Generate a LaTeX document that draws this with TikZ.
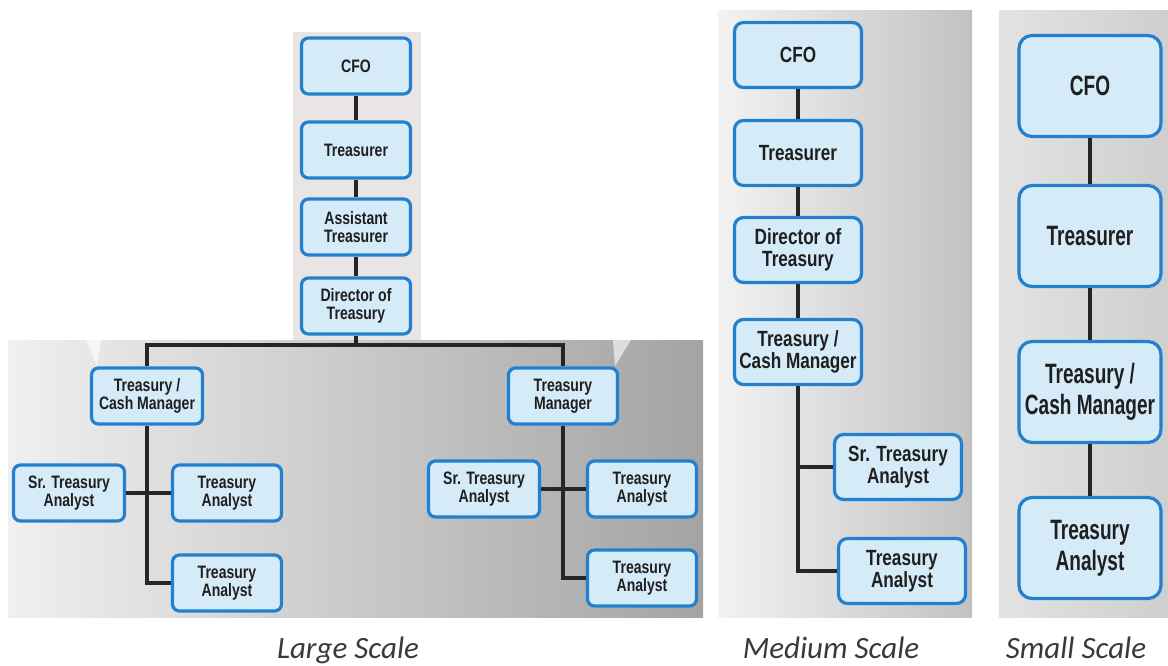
\documentclass[tikz,border=0pt]{standalone}
\usepackage{fontspec}
\newfontfamily\boxfont{Liberation Sans Bold}[FakeStretch=0.78]
\newfontfamily\bigboxfont{Liberation Sans Bold}[FakeStretch=0.68]
\newfontfamily\capfont{Carlito}
\usetikzlibrary{shapes,backgrounds}
\usepackage{color}
\definecolor{boxblue}{RGB}{34,128,206}
\definecolor{boxfill}{RGB}{214,235,248}
\definecolor{striptint}{RGB}{234,229,229}
\definecolor{captext}{RGB}{58,58,58}
\tikzset{
  box/.style={draw=boxblue, fill=boxfill, line width=3.2pt, align=center, text=black!88, inner sep=0pt},
  lbox/.style={box, rounded corners=7pt, minimum width=109pt, minimum height=56pt, font=\boxfont\fontsize{18}{18.5}\selectfont},
  mbox/.style={box, rounded corners=9pt, minimum width=127pt, minimum height=65pt, font=\boxfont\fontsize{22}{22.5}\selectfont},
  sbox/.style={box, rounded corners=13pt, minimum width=142pt, minimum height=101pt, font=\bigboxfont\fontsize{28}{31}\selectfont},
  link/.style={line width=3.2pt, black!85},
  caption/.style={anchor=base, font=\capfont\itshape\fontsize{31}{32}\selectfont, text=captext}
}
\begin{document}
\begin{tikzpicture}[x=1pt,y=-1pt]
\useasboundingbox (0,0) rectangle (1168,665);

% backgrounds
\shade[left color=black!6, right color=black!36] (8,340) rectangle (703,617);
\fill[striptint] (293,32) rectangle (421,340);
\fill[white, opacity=.6] (86,340) -- (101,340) -- (97,366) -- cycle;
\fill[white, opacity=.6] (613,340) -- (631,340) -- (615,366) -- cycle;
\shade[left color=black!5, right color=black!24] (718,10) rectangle (972,617);
\shade[left color=black!11, right color=black!19] (999,10) rectangle (1168,617);

% large scale
\node[lbox] (lcfo) at (356,66) {CFO};
\node[lbox] (ltre) at (356,150) {Treasurer};
\node[lbox] (lasst) at (356,227) {Assistant\\Treasurer};
\node[lbox] (ldir) at (356,306) {Director of\\Treasury};
\node[lbox, minimum width=111pt] (lcash) at (147,396) {Treasury /\\Cash Manager};
\node[lbox] (lmgr) at (563,396) {Treasury\\Manager};
\node[lbox, minimum width=111pt] (lsr) at (69,493) {Sr. Treasury\\Analyst};
\node[lbox] (lta) at (227,493) {Treasury\\Analyst};
\node[lbox] (ltb) at (227,583) {Treasury\\Analyst};
\node[lbox, minimum width=111pt] (rsr) at (484,489) {Sr. Treasury\\Analyst};
\node[lbox] (rta) at (642,489) {Treasury\\Analyst};
\node[lbox] (rtb) at (642,578) {Treasury\\Analyst};
\coordinate (lbus) at (356,345);

\foreach \a/\b in {lcfo/ltre,ltre/lasst,lasst/ldir} % edit here for the chain
\draw[link] (\a) -- (\b);
\draw[link] (ldir) -- (lbus);
\draw[link] (lcash.north) |- (lbus) -| (lmgr.north);
\draw[link] (lcash.south) |- (ltb.west);
\draw[link] (lsr) -- (lta);
\draw[link] (lmgr.south) |- (rtb.west);
\draw[link] (rsr) -- (rta);

% medium scale
\node[mbox] (mcfo) at (798,55) {CFO};
\node[mbox] (mtre) at (798,153) {Treasurer};
\node[mbox] (mdir) at (798,250) {Director of\\Treasury};
\node[mbox] (mcash) at (798,352) {Treasury /\\Cash Manager};
\node[mbox] (msr) at (898,467) {Sr. Treasury\\Analyst};
\node[mbox] (mta) at (902,571) {Treasury\\Analyst};

\foreach \a/\b in {mcfo/mtre,mtre/mdir,mdir/mcash}
\draw[link] (\a) -- (\b);
\draw[link] (mcash.south) |- (mta.west);
\draw[link] (mcash.south |- msr.west) -- (msr.west);

% small scale
\node[sbox] (scfo) at (1090,86) {CFO};
\node[sbox] (stre) at (1090,236) {Treasurer};
\node[sbox] (scash) at (1090,392) {Treasury /\\Cash Manager};
\node[sbox] (sta) at (1090,548) {Treasury\\Analyst};

\foreach \a/\b in {scfo/stre,stre/scash,scash/sta}
\draw[link] (\a) -- (\b);

% captions
\node[caption] (lcap) at (348,658) {Large Scale};
\node[caption] (mcap) at (831,658) {Medium Scale};
\node[caption] (scap) at (1076,658) {Small Scale};
\end{tikzpicture}
\end{document}
